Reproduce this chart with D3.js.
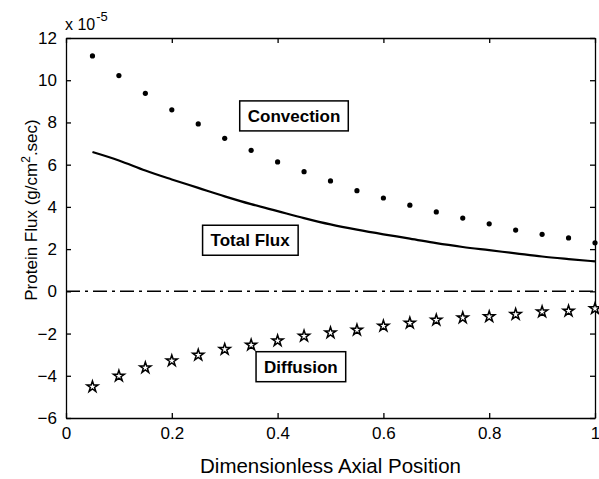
<!DOCTYPE html>
<html>
<head>
<meta charset="utf-8">
<script src="https://cdn.jsdelivr.net/npm/d3@7"></script>
<style>
  body { margin: 0; background: #fff; }
  svg { font-family: Arial, "Liberation Sans", sans-serif; }
</style>
</head>
<body>
<div id="chart"></div>
<script>
// axial positions and flux values (x 10^-5 g/cm^2.sec)
const positions = [0.05, 0.1, 0.15, 0.2, 0.25, 0.3, 0.35, 0.4, 0.45, 0.5,
    0.55, 0.6, 0.65, 0.7, 0.75, 0.8, 0.85, 0.9, 0.95, 1.0]
const convection = [11.15, 10.22, 9.38, 8.6, 7.93, 7.25, 6.68, 6.13, 5.67, 5.23,
    4.77, 4.42, 4.08, 3.76, 3.47, 3.2, 2.9, 2.7, 2.53, 2.3]
const totalFlux = [6.6, 6.2, 5.72, 5.3, 4.9, 4.5, 4.13, 3.8, 3.47, 3.17,
    2.92, 2.7, 2.5, 2.28, 2.1, 1.95, 1.8, 1.65, 1.53, 1.42]
const diffusion = [-4.52, -4.01, -3.62, -3.29, -3.02, -2.75, -2.54, -2.34, -2.12, -1.96,
    -1.83, -1.64, -1.5, -1.36, -1.25, -1.2, -1.09, -0.97, -0.93, -0.82]
const xTicks = [0, 0.2, 0.4, 0.6, 0.8, 1]
const yTicks = [-6, -4, -2, 0, 2, 4, 6, 8, 10, 12]
const labels = [
    { text: "Convection", x: 0.431, y: 8.31 },
    { text: "Total Flux", x: 0.348, y: 2.42 },
    { text: "Diffusion", x: 0.444, y: -3.57 },
]

const width = 599
const height = 479
const margin = { top: 38, right: 4, bottom: 61, left: 66 }

const svg = d3.select("#chart").append("svg")
    .attr("width", width)
    .attr("height", height)

const x = d3.scaleLinear().domain([0, 1]).range([margin.left, width - margin.right])
const y = d3.scaleLinear().domain([-6, 12]).range([height - margin.bottom, margin.top])

const g = svg.append("g")

// axes box with inward ticks
const tick = 5
g.append("g")
    .attr("transform", `translate(0,${y(-6)})`)
    .call(d3.axisBottom(x).tickValues(xTicks).tickSizeInner(-tick).tickSizeOuter(0).tickPadding(9).tickFormat(d3.format("")))
g.append("g")
    .attr("transform", `translate(0,${y(12)})`)
    .call(d3.axisTop(x).tickValues(xTicks).tickSizeInner(-tick).tickSizeOuter(0).tickFormat(""))
g.append("g")
    .attr("transform", `translate(${x(0)},0)`)
    .call(d3.axisLeft(y).tickValues(yTicks).tickSizeInner(-tick).tickSizeOuter(0).tickPadding(9).tickFormat(d3.format("")))
g.append("g")
    .attr("transform", `translate(${x(1)},0)`)
    .call(d3.axisRight(y).tickValues(yTicks).tickSizeInner(-tick).tickSizeOuter(0).tickFormat(""))

g.selectAll(".domain").attr("stroke", "#000").attr("stroke-width", 1.3)
g.selectAll(".tick line").attr("stroke", "#000").attr("stroke-width", 1.3)
g.selectAll(".tick text")
    .attr("fill", "#000")
    .style("font-size", "17px")
    .style("font-family", "Arial, 'Liberation Sans', sans-serif")

// zero line, dash-dot
svg.append("line")
    .attr("x1", x(0)).attr("x2", x(1))
    .attr("y1", y(0)).attr("y2", y(0))
    .attr("stroke", "#000")
    .attr("stroke-width", 1.5)
    .attr("stroke-dasharray", "14,5,3,5")

// total flux line
const line = d3.line()
    .x((d, i) => x(positions[i]))
    .y((d) => y(d))
    .curve(d3.curveMonotoneX)
svg.append("path")
    .datum(totalFlux)
    .attr("d", line)
    .attr("fill", "none")
    .attr("stroke", "#000")
    .attr("stroke-width", 2.2)

// convection dots
svg.append("g").selectAll("circle")
    .data(convection)
    .join("circle")
    .attr("cx", (d, i) => x(positions[i]))
    .attr("cy", (d) => y(d))
    .attr("r", 2.6)
    .attr("fill", "#000")

// diffusion stars
const star = d3.symbol().type(d3.symbolStar).size(38)
svg.append("g").selectAll("path")
    .data(diffusion)
    .join("path")
    .attr("transform", (d, i) => `translate(${x(positions[i])},${y(d)})`)
    .attr("d", star)
    .attr("fill", "#fff")
    .attr("stroke", "#000")
    .attr("stroke-width", 1.5)

// boxed annotations
const ann = svg.append("g").selectAll("g")
    .data(labels)
    .join("g")
    .attr("transform", (d) => `translate(${x(d.x)},${y(d.y)})`)
ann.append("text")
    .attr("text-anchor", "middle")
    .attr("dy", "0.36em")
    .style("font-size", "17px")
    .style("font-weight", "bold")
    .text((d) => d.text)
ann.each(function () {
    const grp = d3.select(this)
    const bb = grp.select("text").node().getBBox()
    grp.insert("rect", "text")
        .attr("x", bb.x - 8)
        .attr("y", -15)
        .attr("width", bb.width + 16)
        .attr("height", 30)
        .attr("fill", "#fff")
        .attr("stroke", "#000")
        .attr("stroke-width", 1.5)
})

// axis titles
svg.append("text")
    .attr("x", (x(0) + x(1)) / 2)
    .attr("y", 473)
    .attr("text-anchor", "middle")
    .style("font-size", "20.5px")
    .text("Dimensionless Axial Position")

const yt = svg.append("text")
    .attr("transform", "translate(37,210) rotate(-90)")
    .attr("text-anchor", "middle")
    .style("font-size", "17px")
yt.append("tspan").text("Protein Flux (g/cm")
yt.append("tspan").attr("dy", -7).style("font-size", "12px").text("2")
yt.append("tspan").attr("dy", 7).text(".sec)")

// exponent label
const ex = svg.append("text")
    .attr("x", 65)
    .attr("y", 30)
    .style("font-size", "16px")
ex.append("tspan").text("x 10")
ex.append("tspan").attr("dy", -9).attr("dx", 1).style("font-size", "13px").text("-5")
</script>
</body>
</html>
